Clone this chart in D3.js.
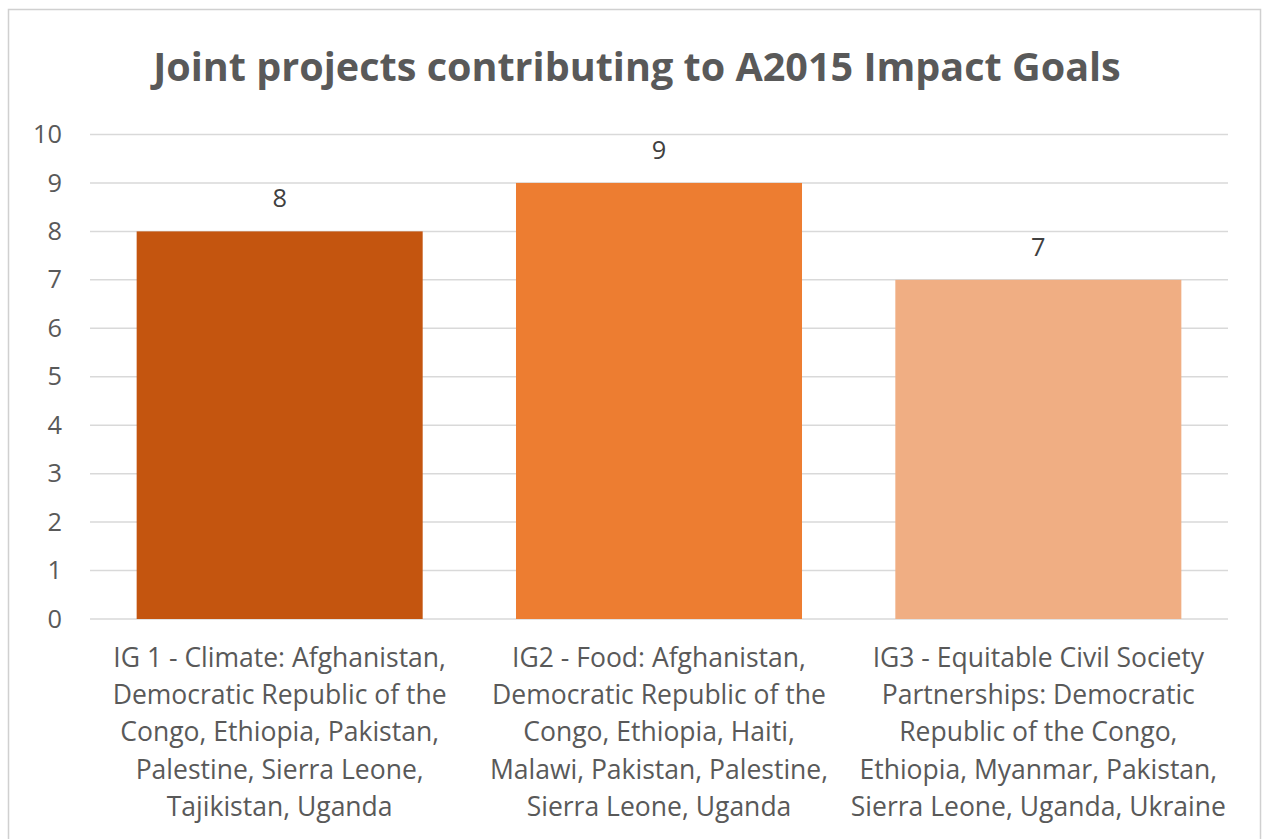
<!DOCTYPE html>
<html><head><meta charset="utf-8">
<script src="https://cdn.jsdelivr.net/npm/d3@7"></script>
<style>body{margin:0;background:#fff;} svg{display:block;}</style>
</head><body>
<svg id="c" width="1263" height="839"></svg>
<script>
const title = "Joint projects contributing to A2015 Impact Goals";
const categories = ["IG1","IG2","IG3"];
const categoryLabels = [
  ["IG 1 - Climate: Afghanistan,","Democratic Republic of the","Congo, Ethiopia, Pakistan,","Palestine, Sierra Leone,","Tajikistan, Uganda"],
  ["IG2 - Food: Afghanistan,","Democratic Republic of the","Congo, Ethiopia, Haiti,","Malawi, Pakistan, Palestine,","Sierra Leone, Uganda"],
  ["IG3 - Equitable Civil Society","Partnerships: Democratic","Republic of the Congo,","Ethiopia, Myanmar, Pakistan,","Sierra Leone, Uganda, Ukraine"]
];
const values = [8, 9, 7];
const barColors = ["#C4550F", "#ED7D31", "#F0AE83"];
const yTicks = [0,1,2,3,4,5,6,7,8,9,10];

const FONT = "'Open Sans', Lato, sans-serif";
const svg = d3.select("#c");

function fitSize(text, weight, target){
  const t = svg.append("text").attr("font-family",FONT).attr("font-weight",weight).attr("font-size",100).text(text);
  const w = t.node().getComputedTextLength();
  t.remove();
  return 100*target/w;
}

// chart border
svg.append("rect").attr("x",8.5).attr("y",9.5).attr("width",1252).attr("height",840)
  .attr("fill","#fff").attr("stroke","#d0d0d0").attr("stroke-width",1.5);

const x = d3.scaleBand().domain(categories).range([90,1228]).paddingInner(0.246).paddingOuter(0.123);
const y = d3.scaleLinear().domain([0,10]).range([619,134.5]);

// gridlines
svg.append("g").selectAll("line").data(yTicks).join("line")
  .attr("x1",90).attr("x2",1228).attr("y1",d=>y(d)).attr("y2",d=>y(d))
  .attr("stroke","#d9d9d9").attr("stroke-width",1.5);

const tickSize = fitSize("10", "normal", 29);

// y axis labels
const yAxis = d3.axisLeft(y).tickValues(yTicks).tickSize(0).tickPadding(0).tickFormat(d3.format("d"));
const ya = svg.append("g").attr("transform","translate(62,0)").call(yAxis);
ya.select(".domain").remove();
ya.selectAll("text").attr("font-family",FONT).attr("font-size",tickSize).attr("fill","#595959");

// bars
svg.append("g").selectAll("rect").data(values).join("rect")
  .attr("x",(d,i)=>x(categories[i])).attr("width",x.bandwidth())
  .attr("y",d=>y(d)).attr("height",d=>y(0)-y(d))
  .attr("fill",(d,i)=>barColors[i]);

// data labels
svg.append("g").selectAll("text").data(values).join("text")
  .attr("x",(d,i)=>x(categories[i])+x.bandwidth()/2).attr("y",d=>y(d)-24)
  .attr("text-anchor","middle").attr("font-family",FONT).attr("font-size",tickSize).attr("fill","#404040")
  .text(d=>d);

// category labels
const labSize = fitSize(categoryLabels[0][1], "normal", 334);
const cl = svg.append("g").selectAll("text").data(categoryLabels).join("text")
  .attr("text-anchor","middle").attr("font-family",FONT).attr("font-size",labSize).attr("fill","#595959");
cl.each(function(lines,i){
  const t = d3.select(this);
  lines.forEach((ln,j)=>{
    t.append("tspan").attr("x",x(categories[i])+x.bandwidth()/2).attr("y",667+j*37.2).text(ln);
  });
});

// title
const titleSize = fitSize(title, "bold", 968);
svg.append("text").attr("x",637).attr("y",81).attr("text-anchor","middle")
  .attr("font-family",FONT).attr("font-weight","bold").attr("font-size",titleSize).attr("fill","#595959")
  .text(title);
</script>
</body></html>
